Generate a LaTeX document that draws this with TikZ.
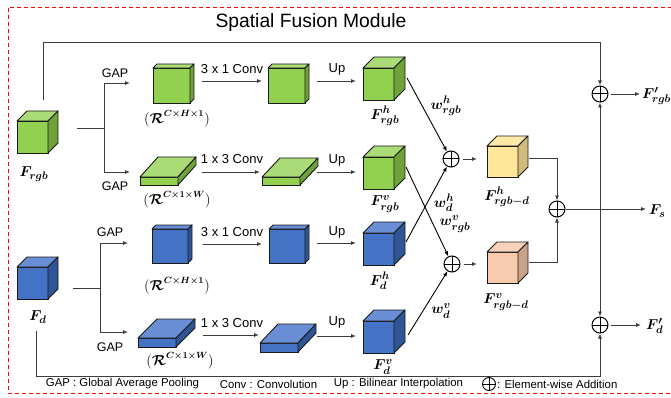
\documentclass[tikz,border=0pt]{standalone}
\usepackage[no-math]{fontspec}
\setmainfont{Liberation Sans}
\usepackage{amsmath,bm}
\usetikzlibrary{arrows.meta,calc}
\definecolor{greenF}{HTML}{92D050}
\definecolor{greenT}{HTML}{AADB76}
\definecolor{greenS}{HTML}{6FA33A}
\definecolor{blueF}{HTML}{4472C4}
\definecolor{blueT}{HTML}{6A8ED6}
\definecolor{blueS}{HTML}{2F5597}
\definecolor{yelF}{HTML}{FFE699}
\definecolor{yelT}{HTML}{FFE9A6}
\definecolor{yelS}{HTML}{D2BC7C}
\definecolor{orF}{HTML}{F8CBAD}
\definecolor{orT}{HTML}{F9D3B9}
\definecolor{orS}{HTML}{C9A288}
\definecolor{lineC}{HTML}{3C3C3C}
\definecolor{edgeC}{HTML}{1A1A1A}
% #1 name, #2 x, #3 y (front top-left), #4 w, #5 h, #6 dx, #7 dy, #8 colour scheme
\newcommand{\mkcube}[8]{%
  \node[cubeface, fill=#8F, minimum width=#4pt, minimum height=#5pt, anchor=north west] (#1) at (#2,#3) {};
  \filldraw[cubeedge, fill=#8T] (#1.north west) -- ++(#6,-#7) -- ++(#4,0) -- (#1.north east) -- cycle;
  \filldraw[cubeedge, fill=#8S] (#1.north east) -- ++(#6,-#7) -- ++(0,#5) -- (#1.south east) -- cycle;
}
\newcommand{\Rlab}[1]{$(\bm{\mathcal{R}}^{\bm{#1}})$}
\begin{document}
\begin{tikzpicture}[x=1pt,y=-1pt,
  cubeface/.style={draw=edgeC, line width=0.9pt, inner sep=0pt, outer sep=0pt},
  cubeedge/.style={draw=edgeC, line width=0.9pt, line join=round},
  ln/.style={draw=lineC, line width=0.9pt},
  arr/.style={ln, -{Latex[length=5pt,width=4pt]}},
  lbl/.style={font=\fontsize{13}{15}\selectfont, inner sep=0pt},
  gaplbl/.style={font=\fontsize{12.5}{14}\selectfont, inner sep=0pt},
  mlbl/.style={font=\fontsize{15}{17}\selectfont, inner sep=0pt},
  rlbl/.style={font=\fontsize{13.5}{15}\selectfont, inner sep=0pt},
  leg/.style={font=\fontsize{11.4}{13}\selectfont, inner sep=0pt},
  oplus/.style={circle, draw=black, line width=1pt, minimum size=16pt, inner sep=0pt,
    path picture={\draw[line width=1pt] (path picture bounding box.north) -- (path picture bounding box.south)
      (path picture bounding box.west) -- (path picture bounding box.east);}},
  smallplus/.style={oplus, minimum size=13pt, line width=0.9pt}
]
\useasboundingbox (0,0) rectangle (671,398);
\fill[white] (0,0) rectangle (671,398);
% border
\draw[red, dash pattern=on 4pt off 3pt, line width=0.7pt] (672,7) -- (8,7) -- (8,393) -- (672,393);
% title
\node[font=\fontsize{19.3}{22}\selectfont, inner sep=0pt] (title) at (311,23) {Spatial Fusion Module};

% cubes
\mkcube{g1}{17}{121}{31}{32}{10}{10}{green}
\mkcube{g2}{153}{68}{37}{35}{4}{4}{green}
\mkcube{g3}{268}{68}{37}{35}{4}{4}{green}
\mkcube{g4}{363}{68}{31}{32}{11}{11}{green}
\mkcube{s1}{140}{177}{38}{8}{18}{20}{green}
\mkcube{s2}{262}{177}{38}{8}{18}{19}{green}
\mkcube{g5}{363}{157}{31}{32}{11}{11}{green}

\mkcube{b1}{17}{267}{31}{32}{10}{10}{blue}
\mkcube{b2}{152}{229}{36}{34}{4}{4}{blue}
\mkcube{b3}{269}{229}{36}{34}{4}{4}{blue}
\mkcube{b4}{363}{233}{31}{32}{11}{11}{blue}
\mkcube{bs1}{138}{338}{38}{9}{19}{19}{blue}
\mkcube{bs2}{260}{343}{38}{9}{18}{19}{blue}
\mkcube{b5}{363}{321}{31}{32}{11}{11}{blue}

\mkcube{y1}{487}{146}{31}{31}{10}{10}{yel}
\mkcube{o1}{487}{252}{31}{31}{10}{10}{or}

% plus nodes
\node[oplus] (p1) at (451,159) {};
\node[oplus] (p2) at (452,264) {};
\node[oplus] (p3) at (557,209) {};
\node[oplus] (p4) at (600,94) {};
\node[oplus] (p5) at (600,325) {};

% text labels
\node[gaplbl] (gap1) at (115,73) {GAP};
\node[gaplbl] (gap2) at (115,186) {GAP};
\node[gaplbl] (gap3) at (110,232) {GAP};
\node[gaplbl] (gap4) at (110,347) {GAP};
\node[lbl] (c1) at (232,69) {3 x 1 Conv};
\node[lbl] (u1) at (337,69) {Up};
\node[lbl] (c2) at (232,159) {1 x 3 Conv};
\node[lbl] (u2) at (337,160) {Up};
\node[lbl] (c3) at (232,232) {3 x 1 Conv};
\node[lbl] (u3) at (337,232) {Up};
\node[lbl] (c4) at (232,323) {1 x 3 Conv};
\node[lbl] (u4) at (337,322) {Up};

\node[rlbl] (r1) at (177,119) {\Rlab{C\times H\times 1}};
\node[rlbl] (r2) at (177,200) {\Rlab{C\times 1\times W}};
\node[rlbl] (r3) at (177,286) {\Rlab{C\times H\times 1}};
\node[rlbl] (r4) at (180,361) {\Rlab{C\times 1\times W}};

\node[mlbl] (frgb) at (34,174) {$\bm{F_{rgb}}$};
\node[mlbl] (fd) at (38,317) {$\bm{F_{d}}$};
\node[mlbl] (fhrgb) at (385,116) {$\bm{F^{h}_{rgb}}$};
\node[mlbl] (fvrgb) at (385,204) {$\bm{F^{v}_{rgb}}$};
\node[mlbl] (fhd) at (380,281) {$\bm{F^{h}_{d}}$};
\node[mlbl] (fvd) at (383,367) {$\bm{F^{v}_{d}}$};
\node[mlbl] (fhrgbd) at (507,197) {$\bm{F^{h}_{rgb-d}}$};
\node[mlbl] (fvrgbd) at (506,302) {$\bm{F^{v}_{rgb-d}}$};
\node[mlbl] (whrgb) at (446,106) {$\bm{w^{h}_{rgb}}$};
\node[mlbl] (whd) at (444,203) {$\bm{w^{h}_{d}}$};
\node[mlbl] (wvrgb) at (455,224) {$\bm{w^{v}_{rgb}}$};
\node[mlbl] (wvd) at (441,311) {$\bm{w^{v}_{d}}$};
\node[mlbl, anchor=west] (frgbp) at (642,96) {$\bm{F'_{rgb}}$};
\node[mlbl, anchor=west] (fs) at (649,211) {$\bm{F_{s}}$};
\node[mlbl, anchor=west] (fdp) at (646,326) {$\bm{F'_{d}}$};

% legend
\node[leg] (lg1) at (122.5,384) {GAP : Global Average Pooling};
\node[leg] (lg2) at (268.5,384) {Conv : Convolution};
\node[leg] (lg3) at (398.5,384) {Up : Bilinear Interpolation};
\node[smallplus] (lgp) at (489,384) {};
\node[leg, anchor=west] (lg4) at (497,384) {: Element-wise Addition};

% junction coordinates
\coordinate (j1) at (104,128);
\coordinate (j3) at (100,288);
\coordinate (bc) at (36,331);

% branches
\draw[ln] ($(g1.east)+(29,-9)$) -- (j1);
\draw[arr] (j1) |- ($(g2.west)+(-23,-2.5)$);
\draw[arr] (j1) |- ($(s1.west)+(-10,-9)$);
\draw[ln] ($(b1.east)+(25,5)$) -- (j3);
\draw[arr] (j3) |- ($(b2.west)+(-24,-3)$);
\draw[arr] (j3) |- ($(bs1.west)+(-10,-10.5)$);

% conv and up arrows
\draw[arr] ($(g2.east)+(12,-4.5)$) -- ($(g3.west)+(-6,-4.5)$);
\draw[arr] ($(g3.east)+(12,-4.5)$) -- ($(g4.west)+(-7,-3)$);
\draw[arr] ($(s1.east)+(24,-9)$) -- ($(s2.west)+(-2,-9)$);
\draw[arr] ($(s2.east)+(17,-9)$) -- ($(g5.west)+(-7,-1)$);
\draw[arr] ($(b2.east)+(15,-2)$) -- ($(b3.west)+(-7,-2)$);
\draw[arr] ($(b3.east)+(12,-3)$) -- ($(b4.west)+(-7,-6)$);
\draw[arr] ($(bs1.east)+(27,-7.5)$) -- ($(bs2.west)+(-1,-12.5)$);
\draw[arr] ($(bs2.east)+(19,-11.5)$) -- ($(b5.west)+(-7,-1)$);

% crossing weights
\draw[arr, draw=black] ($(g4.east)+(13,-6)$) -- (p1);
\draw[arr, draw=black] ($(b4.east)+(12,-7)$) -- (p1);
\draw[arr, draw=black] ($(g5.east)+(12,-6)$) -- (p2);
\draw[arr, draw=black] ($(b5.east)+(14,-2)$) -- (p2);

% to fused cubes
\draw[arr, shorten <=3pt, shorten >=10pt] (p1) -- (p1 -| y1.west);
\draw[arr, shorten <=3pt, shorten >=10pt] (p2) -- (p2 -| o1.west);
\draw[arr] ($(y1.east)+(11,-3.5)$) -| (p3);
\draw[arr] ($(o1.east)+(11,-5.5)$) -| (p3);

% output
\draw[arr] (p3) -- ($(fs.west)+(-3,-2)$);
\coordinate (vj) at (p3 -| p4);
\draw[arr] (vj) -- (p4);
\draw[arr] (vj) -- (p5);
\draw[arr] ($(g1.north)+(10.5,-21)$) -- ++(0,-58) -| (p4);
\draw[arr] (bc) -- ++(0,45) -| (p5);
\draw[arr, shorten <=2pt] (p4) -- ($(frgbp.west)+(-2,-2)$);
\draw[arr, shorten <=2pt] (p5) -- ($(fdp.west)+(-5,-1)$);
\end{tikzpicture}
\end{document}
